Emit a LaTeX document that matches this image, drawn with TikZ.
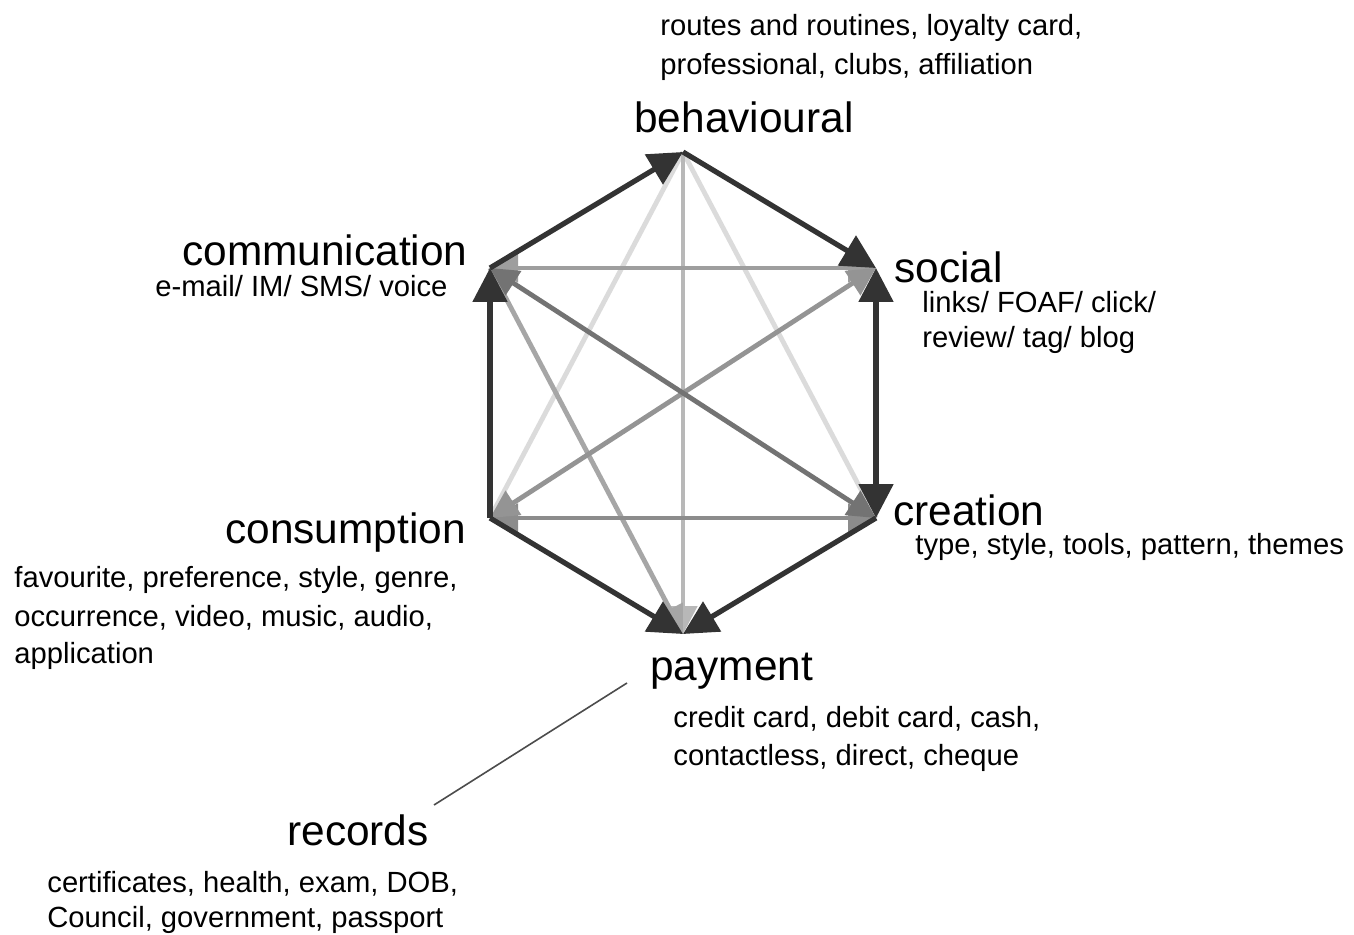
\documentclass[tikz,border=0pt]{standalone}
\usepackage{fontspec}
\setmainfont{Liberation Sans}
\usetikzlibrary{arrows.meta}
\begin{document}
\begin{tikzpicture}[x=0.5pt,y=-0.5pt,
  big/.style={anchor=base west,inner sep=0pt,font=\fontsize{21.2pt}{25pt}\selectfont},
  small/.style={anchor=base west,inner sep=0pt,font=\fontsize{14.6pt}{18pt}\selectfont},
  hexedge/.style={line width=2.6pt,draw=black!80,-{Triangle[length=17pt,width=17pt]}},
  hexboth/.style={line width=2.6pt,draw=black!80,{Triangle[length=17pt,width=17pt]}-{Triangle[length=17pt,width=17pt]}},
  inner/.style={line width=2.4pt,draw=#1},
  gtip/.style={-{Triangle[length=14pt,width=14pt]}},
  gboth/.style={{Triangle[length=14pt,width=14pt]}-{Triangle[length=14pt,width=14pt]}},
  leader/.style={line width=0.8pt,draw=black!70}
]
\useasboundingbox (0,0) rectangle (1354,935);
\fill[white] (0,0) rectangle (1354,935);

% vertices
\coordinate (B)  at (683,152);
\coordinate (S)  at (876,268);
\coordinate (C)  at (876,518);
\coordinate (P)  at (683,634);
\coordinate (Co) at (490,518);
\coordinate (Cm) at (490,268);

% inner gray connectors
\draw[inner=black!14] (B) -- (Co);
\draw[inner=black!14] (B) -- (C);
\draw[inner=black!28,gtip] (B) -- (P);
\draw[inner=black!35,gtip] (Cm) -- (P);
\draw[inner=black!38,gboth] (Cm) -- (S);
\draw[inner=black!45,gboth] (Co) -- (C);
\draw[inner=black!42,gboth] (Co) -- (S);
\draw[inner=black!55,gboth] (Cm) -- (C);

% hexagon edges
\draw[hexedge] (Cm) -- (B);
\draw[hexedge] (B) -- (S);
\draw[hexboth] (S) -- (C);
\draw[hexedge] (C) -- (P);
\draw[hexedge] (Co) -- (P);
\draw[hexedge] (Co) -- (Cm);

% labels
\node[small] (beh1) at (660,36) {routes and routines, loyalty card,};
\node[small] (beh2) at (660,75) {professional, clubs, affiliation};
\node[big]   (beh)  at (634,133) {behavioural};

\node[big]   (com)  at (182,266) {communication};
\node[small] (com1) at (155,297) {e-mail/ IM/ SMS/ voice};

\node[big]   (soc)  at (894,283) {social};
\node[small] (soc1) at (922,313) {links/ FOAF/ click/};
\node[small] (soc2) at (922,348) {review/ tag/ blog};

\node[big]   (con)  at (225,543) {consumption};
\node[small] (con1) at (14,587) {favourite, preference, style, genre,};
\node[small] (con2) at (14,626) {occurrence, video, music, audio,};
\node[small] (con3) at (14,663) {application};

\node[big]   (cre)  at (893,525) {creation};
\node[small] (cre1) at (915,554) {type, style, tools, pattern, themes};

\node[big]   (pay)  at (650,680) {payment};
\node[small] (pay1) at (673,727) {credit card, debit card, cash,};
\node[small] (pay2) at (673,765) {contactless, direct, cheque};

\node[big]   (rec)  at (287,845) {records};
\node[small] (rec1) at (47,892) {certificates, health, exam, DOB,};
\node[small] (rec2) at (47,927) {Council, government, passport};

\coordinate (recA) at (434,805);
\coordinate (recB) at (627,683);
\draw[leader] (recA) -- (recB);
\end{tikzpicture}
\end{document}
